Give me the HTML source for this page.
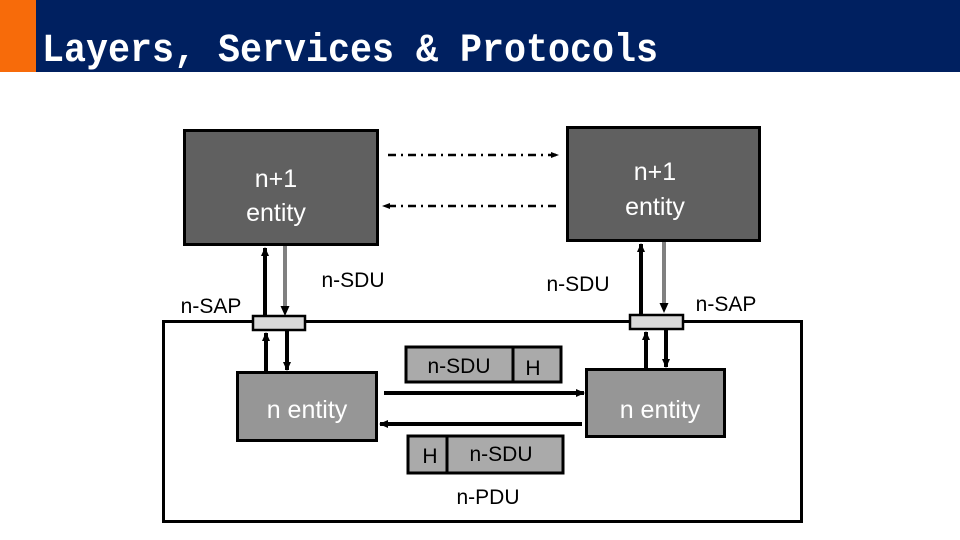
<!DOCTYPE html>
<html><head><style>
body{margin:0;width:960px;height:540px;overflow:hidden;background:#fff;font-family:"Liberation Sans",sans-serif}
</style></head><body>
<svg width="960" height="540" xmlns="http://www.w3.org/2000/svg" style="position:absolute;left:0;top:0">
<defs>
<marker id="a" markerWidth="10" markerHeight="10" refX="8" refY="5" orient="auto" markerUnits="userSpaceOnUse"><path d="M0,1 L9,5 L0,9 z" fill="#000"/></marker>
<marker id="s" markerWidth="10" markerHeight="10" refX="8" refY="5" orient="auto" markerUnits="userSpaceOnUse"><path d="M1,2 L9,5 L1,8 z" fill="#000"/></marker>
</defs>
<rect x="0" y="0" width="36" height="72" fill="#f76b0a"/>
<rect x="36" y="0" width="924" height="72" fill="#002060"/>
<text x="42" y="61" fill="#fff" font-family="Liberation Mono,monospace" font-weight="bold" font-size="40" textLength="616" lengthAdjust="spacingAndGlyphs">Layers, Services &amp; Protocols</text>

<rect x="184.5" y="130.5" width="193" height="114" fill="#606060" stroke="#000" stroke-width="3"/>
<rect x="567.5" y="127.5" width="192" height="113" fill="#606060" stroke="#000" stroke-width="3"/>
<g fill="#fff" font-size="25" text-anchor="middle">
<text x="276" y="187">n+1</text><text x="276" y="221">entity</text>
<text x="655" y="180">n+1</text><text x="655" y="215">entity</text>
</g>
<line x1="388" y1="155" x2="558" y2="155" stroke="#000" stroke-width="2.5" stroke-dasharray="8,5,2,5" marker-end="url(#s)"/>
<line x1="556" y1="206" x2="383" y2="206" stroke="#000" stroke-width="2.5" stroke-dasharray="8,5,2,5" marker-end="url(#s)"/>

<rect x="163.5" y="321.5" width="638" height="200" fill="none" stroke="#000" stroke-width="3"/>
<rect x="253" y="316" width="52" height="14" fill="#d9d9d9" stroke="#000" stroke-width="2.5"/>
<rect x="630" y="315" width="53" height="14" fill="#d9d9d9" stroke="#000" stroke-width="2.5"/>

<rect x="237.5" y="372.5" width="139" height="68" fill="#969696" stroke="#000" stroke-width="3"/>
<rect x="586.5" y="369.5" width="138" height="67" fill="#969696" stroke="#000" stroke-width="3"/>
<g fill="#fff" font-size="25" text-anchor="middle">
<text x="307" y="418">n entity</text><text x="660" y="418">n entity</text>
</g>

<line x1="265" y1="316" x2="265" y2="248" stroke="#000" stroke-width="4" marker-end="url(#a)"/>
<line x1="285" y1="246" x2="285" y2="308" stroke="#000" stroke-width="3"/>
<line x1="285" y1="246" x2="285" y2="308" stroke="#fff" stroke-width="1"/>
<path d="M280.5,306 L289.5,306 L285,316 z" fill="#000"/>
<line x1="266" y1="372" x2="266" y2="333" stroke="#000" stroke-width="4" marker-end="url(#a)"/>
<line x1="287" y1="330" x2="287" y2="370" stroke="#000" stroke-width="4" marker-end="url(#a)"/>

<line x1="641" y1="315" x2="641" y2="244" stroke="#000" stroke-width="4" marker-end="url(#a)"/>
<line x1="664" y1="242" x2="664" y2="305" stroke="#000" stroke-width="3"/>
<line x1="664" y1="242" x2="664" y2="305" stroke="#fff" stroke-width="1"/>
<path d="M659.5,303 L668.5,303 L664,313 z" fill="#000"/>
<line x1="646" y1="369" x2="646" y2="332" stroke="#000" stroke-width="4" marker-end="url(#a)"/>
<line x1="666" y1="329" x2="666" y2="367" stroke="#000" stroke-width="4" marker-end="url(#a)"/>

<rect x="406" y="347" width="155" height="35" fill="#aaaaaa" stroke="#000" stroke-width="3"/>
<line x1="513" y1="347" x2="513" y2="382" stroke="#000" stroke-width="3"/>
<rect x="408" y="436" width="155" height="37" fill="#aaaaaa" stroke="#000" stroke-width="3"/>
<line x1="447" y1="436" x2="447" y2="473" stroke="#000" stroke-width="3"/>
<g fill="#000" font-size="21" text-anchor="middle">
<text x="459" y="373">n-SDU</text><text x="533" y="375">H</text>
<text x="430" y="463">H</text><text x="501" y="461">n-SDU</text>
<text x="488" y="504">n-PDU</text>
<text x="211" y="313">n-SAP</text>
<text x="353" y="287">n-SDU</text>
<text x="578" y="291">n-SDU</text>
<text x="726" y="311">n-SAP</text>
</g>
<line x1="384" y1="393" x2="584" y2="393" stroke="#000" stroke-width="4" marker-end="url(#a)"/>
<line x1="582" y1="424" x2="380" y2="424" stroke="#000" stroke-width="4" marker-end="url(#a)"/>
</svg>
</body></html>
